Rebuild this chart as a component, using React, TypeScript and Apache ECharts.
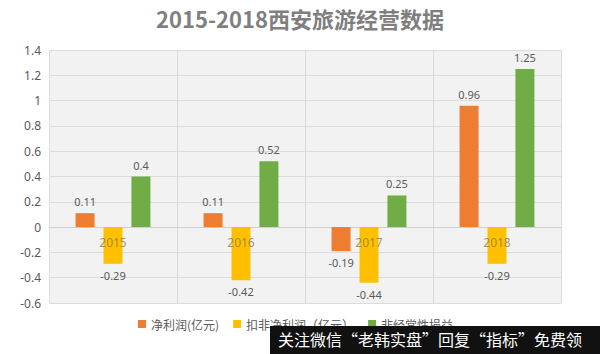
import React, { useEffect, useRef } from "react";
import * as echarts from "echarts";

const categories = ["2015", "2016", "2017", "2018"];
const netProfit = [0.11, 0.11, -0.19, 0.96];
const deductedNetProfit = [-0.29, -0.42, -0.44, -0.29];
const nonRecurring = [0.4, 0.52, 0.25, 1.25];
const seriesNames = ["净利润(亿元)", "扣非净利润（亿元）", "非经常性损益"];
const yTicks = { min: -0.6, max: 1.4, interval: 0.2 };

const toData = (arr: number[]) =>
  arr.map((v) => ({
    value: v,
    label: { position: v < 0 ? "bottom" : "top" },
  }));

export default function App() {
  const ref = useRef<HTMLDivElement>(null);
  useEffect(() => {
    if (!ref.current) return;
    const chart = echarts.init(ref.current, null, { renderer: "svg" });
    const labelCfg = {
      show: true,
      color: "#595959",
      fontSize: 11,
      distance: 6,
      fontFamily: "Noto Sans",
      formatter: (p: any) => String(p.value),
    };
    chart.setOption({
      animation: false,
      backgroundColor: "#ffffff",
      title: {
        text: "2015-2018西安旅游经营数据",
        left: "center",
        top: 2,
        textStyle: {
          color: "#7f7f7f",
          fontSize: 22,
          fontWeight: "bold",
          fontFamily: "Noto Sans CJK SC",
        },
      },
      legend: {
        data: seriesNames,
        left: 138,
        top: 318,
        padding: 0,
        itemWidth: 8,
        itemHeight: 8,
        itemGap: 14,
        icon: "rect",
        textStyle: { color: "#595959", fontSize: 12, fontFamily: "Noto Sans CJK SC" },
      },
      grid: {
        left: 49,
        right: 39,
        top: 50,
        bottom: 51,
        containLabel: false,
        outerBoundsMode: "none",
        show: true,
        backgroundColor: "#f2f2f2",
        borderWidth: 0,
      },
      xAxis: {
        type: "category",
        data: categories,
        axisLine: { onZero: true, lineStyle: { color: "#d0d0d0" } },
        axisTick: { show: false },
        axisLabel: { show: false },
        splitLine: { show: true, lineStyle: { color: "#dcdcdc" } },
      },
      yAxis: {
        type: "value",
        min: yTicks.min,
        max: yTicks.max,
        interval: yTicks.interval,
        axisLine: { show: false },
        axisTick: { show: false },
        axisLabel: {
          color: "#595959",
          fontSize: 12,
          margin: 8,
          fontFamily: "Noto Sans",
          formatter: (v: number) => String(Math.round(v * 10) / 10),
        },
        splitLine: { lineStyle: { color: "#dcdcdc" } },
      },
      series: [
        {
          name: seriesNames[0],
          type: "bar",
          data: toData(netProfit),
          barWidth: 19,
          barGap: "47%",
          itemStyle: { color: "#ED7D31" },
          label: labelCfg,
        },
        {
          name: seriesNames[1],
          type: "bar",
          data: toData(deductedNetProfit),
          barWidth: 19,
          barGap: "47%",
          itemStyle: { color: "#FFC000" },
          label: labelCfg,
        },
        {
          name: seriesNames[2],
          type: "bar",
          data: toData(nonRecurring),
          barWidth: 19,
          barGap: "47%",
          itemStyle: { color: "#70AD47" },
          label: labelCfg,
        },
        {
          name: "categoryLabels",
          type: "scatter",
          data: categories.map(() => 0),
          symbolSize: 0,
          silent: true,
          z: 10,
          label: {
            show: true,
            position: "bottom",
            distance: 9,
            color: "#8c7a4e",
            fontSize: 12,
            fontFamily: "Noto Sans",
            formatter: (p: any) => categories[p.dataIndex],
          },
        },
      ],
      graphic: [
        {
          type: "rect",
          left: 270,
          top: 326,
          shape: { width: 330, height: 28 },
          style: { fill: "#111111" },
          z: 100,
        },
        {
          type: "text",
          left: 278,
          top: 331,
          style: {
            text: "关注微信“老韩实盘”回复“指标”免费领",
            fill: "#ffffff",
            fontSize: 16,
            fontFamily: "Noto Sans CJK SC",
          },
          z: 101,
        },
      ],
    });
    return () => chart.dispose();
  }, []);
  return (
    <div
      ref={ref}
      style={{ position: "fixed", left: 0, top: 0, width: 600, height: 354 }}
    />
  );
}
